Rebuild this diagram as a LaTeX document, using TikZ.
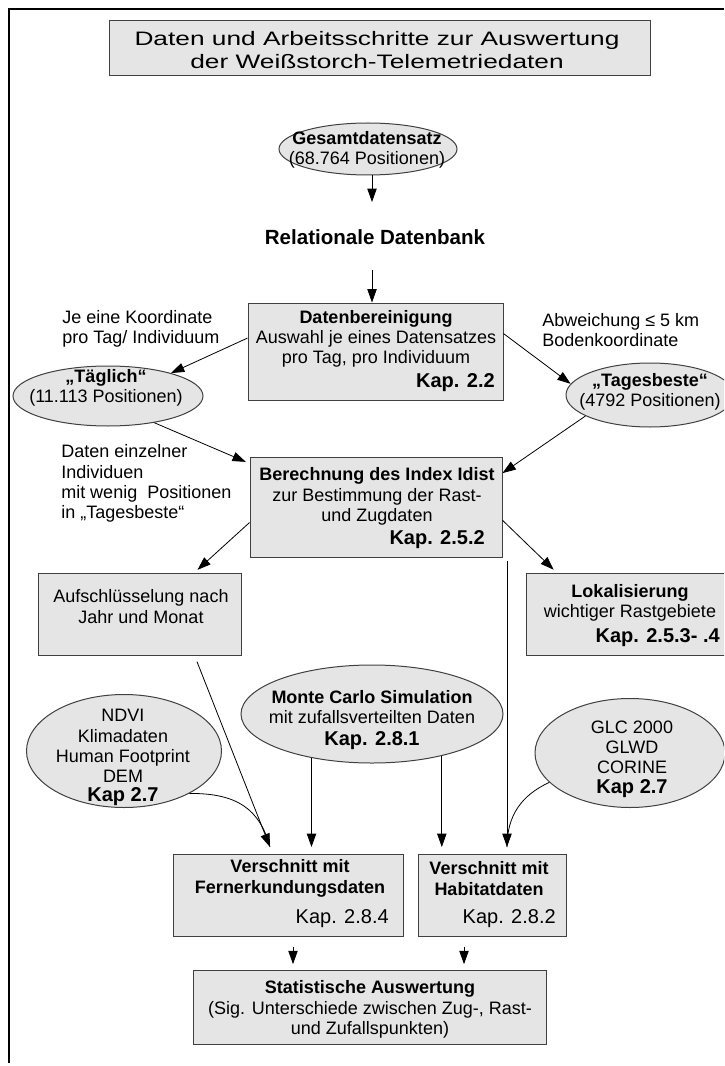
\documentclass[tikz,border=0pt]{standalone}
\usepackage{fontspec}
\setmainfont{Liberation Sans}
\newfontfamily\titelfont[FakeStretch=1.35]{Liberation Sans}
\usetikzlibrary{shapes.geometric,arrows.meta}
\begin{document}
\begin{tikzpicture}[x=0.75pt, y=-0.75pt,
        box/.style={rectangle, draw=black!75, line width=0.75pt, fill=gray!20, inner sep=0pt},
        oval/.style={ellipse, draw=black!75, line width=0.75pt, fill=gray!20, inner sep=0pt},
        txt/.style={inner sep=0pt, align=center, font=\fontsize{13.5}{15.2}\selectfont},
        notiz/.style={txt, align=left, anchor=west},
        kap/.style={inner sep=0pt, anchor=east, font=\fontsize{15}{17}\selectfont\bfseries},
        kapnormal/.style={kap, font=\fontsize{15}{17}\selectfont},
        pfeil/.style={draw, line width=0.6pt, -{Triangle[length=10pt,width=7pt]}},
        linie/.style={draw, line width=0.6pt}]
% Rahmen
                \useasboundingbox ( 0, 0 ) rectangle ( 724, 1066 );
                \clip ( 0, 0 ) rectangle ( 724, 1066 );
                \fill [white] ( 0, 0 ) rectangle ( 724, 1066 );
                \draw [line width=1pt] ( 724, 9 ) -- ( 9, 9 ) -- ( 9, 1063 );

% Titel
                \node [box, minimum width=405.75pt, minimum height=41.25pt] (titel) at ( 379.5, 48.5 ) {};
                \node [txt, font=\titelfont\fontsize{14.6}{17.25}\selectfont] (titel-text) at ( 377, 50.5 )
                        {Daten und Arbeitsschritte zur Auswertung\\der Weißstorch-Telemetriedaten};

% Ellipsen
                \node [oval, minimum width=133.5pt, minimum height=39pt] (gesamt) at ( 368, 149 ) {};
                \node [oval, minimum width=142.5pt, minimum height=45pt] (taeglich) at ( 108, 396 ) {};
                \node [oval, minimum width=126pt, minimum height=48pt] (tagesbeste) at ( 650, 395 ) {};
                \node [oval, minimum width=196.5pt, minimum height=73.5pt] (montecarlo) at ( 372, 714 ) {};
                \node [oval, minimum width=146.25pt, minimum height=84.75pt] (ndvi) at ( 124, 751 ) {};
                \node [oval, minimum width=142.5pt, minimum height=81.75pt] (glc) at ( 630, 753 ) {};

% Kaesten
                \node [box, minimum width=191.25pt, minimum height=72.75pt] (bereinigung) at ( 375.5, 351.5 ) {};
                \node [box, minimum width=189pt, minimum height=75pt] (berechnung) at ( 376, 507 ) {};
                \node [box, minimum width=152.25pt, minimum height=61.5pt] (aufschluesselung) at ( 139.5, 614 ) {};
                \node [box, minimum width=168pt, minimum height=61.5pt] (lokalisierung) at ( 638, 614 ) {};
                \node [box, minimum width=172.5pt, minimum height=61.5pt] (fernerkundung) at ( 288, 895 ) {};
                \node [box, minimum width=111pt, minimum height=61.5pt] (habitat) at ( 492, 895 ) {};
                \node [box, minimum width=264.75pt, minimum height=55.5pt] (statistik) at ( 369.5, 1007 ) {};

% Texte
                \node [txt] (gesamt-text) at ( 367, 150 ) {\textbf{Gesamtdatensatz}\\(68.764 Positionen)};
                \node [txt, font=\fontsize{15.4}{17}\selectfont\bfseries] (datenbank) at ( 375, 237 ) {Relationale Datenbank};
                \node [txt] (bereinigung-text) at ( 376, 339 )
                        {\textbf{Datenbereinigung}\\Auswahl je eines Datensatzes\\pro Tag, pro Individuum};
                \node [kap] (bereinigung-kap) at ( 495, 383 ) {Kap. 2.2};
                \node [txt] (taeglich-text) at ( 106, 388 ) {\textbf{„Täglich“}\\(11.113 Positionen)};
                \node [txt] (tagesbeste-text) at ( 650, 391.5 ) {\textbf{„Tagesbeste“}\\(4792 Positionen)};
                \node [notiz] (notiz-tag) at ( 62, 329 ) {Je eine Koordinate\\pro Tag/ Individuum};
                \node [notiz] (notiz-abweichung) at ( 542, 330 ) {Abweichung ≤ 5 km\\Bodenkoordinate};
                \node [notiz] (notiz-individuen) at ( 61, 483.5 )
                        {Daten einzelner\\Individuen\\mit wenig\ \ Positionen\\in „Tagesbeste“};
                \node [txt] (berechnung-text) at ( 377, 496.5 )
                        {\textbf{Berechnung des Index Idist}\\zur Bestimmung der Rast-\\und Zugdaten};
                \node [kap] (berechnung-kap) at ( 485, 540 ) {Kap. 2.5.2};
                \node [txt] (aufschluesselung-text) at ( 141, 606.5 ) {Aufschlüsselung nach\\Jahr und Monat};
                \node [txt] (lokalisierung-text) at ( 630, 603 ) {\textbf{Lokalisierung}\\wichtiger Rastgebiete};
                \node [kap] (lokalisierung-kap) at ( 720, 638 ) {Kap. 2.5.3- .4};
                \node [txt] (montecarlo-text) at ( 372, 707 ) {\textbf{Monte Carlo Simulation}\\mit zufallsverteilten Daten};
                \node [kap, anchor=center] (montecarlo-kap) at ( 372, 741 ) {Kap. 2.8.1};
                \node [txt] (ndvi-text) at ( 123, 746 ) {NDVI\\Klimadaten\\Human Footprint\\DEM};
                \node [kap, anchor=center] (ndvi-kap) at ( 123, 797 ) {Kap 2.7};
                \node [txt] (glc-text) at ( 632, 747.5 ) {GLC 2000\\GLWD\\CORINE};
                \node [kap, anchor=center] (glc-kap) at ( 632, 789 ) {Kap 2.7};
                \node [txt] (fernerkundung-text) at ( 290, 878.5 ) {\textbf{Verschnitt mit}\\\textbf{Fernerkundungsdaten}};
                \node [kapnormal] (fernerkundung-kap) at ( 389, 919 ) {Kap. 2.8.4};
                \node [txt] (habitat-text) at ( 489, 878.5 ) {\textbf{Verschnitt mit}\\\textbf{Habitatdaten}};
                \node [kapnormal] (habitat-kap) at ( 556, 919 ) {Kap. 2.8.2};
                \node [txt] (statistik-text) at ( 370, 1009.5 )
                        {\textbf{Statistische Auswertung}\\(Sig. Unterschiede zwischen Zug-, Rast-\\und Zufallspunkten)};

% Pfeile
                \coordinate (datenbank-oben) at ( 372, 202 );
                \coordinate (datenbank-unten) at ( 372, 270 );
                \coordinate (abzweig) at ( 507, 561 );
                \coordinate (fk-spitze) at ( 270, 847 );
                \coordinate (hab-spitze) at ( 507, 847 );
                \draw [pfeil] (gesamt.south -| datenbank-oben) -- (datenbank-oben);
                \draw [pfeil] (datenbank-unten) -- (datenbank-unten |- bereinigung.north);
                \draw [pfeil] (bereinigung.174) -- (taeglich.20);
                \draw [pfeil] (bereinigung.8) -- (tagesbeste.172);
                \draw [pfeil, shorten >=3pt] (taeglich.-30) -- (berechnung.161);
                \draw [pfeil] (tagesbeste.198) -- (berechnung.15);
                \draw [pfeil, shorten >=3pt] (berechnung.187) -- (aufschluesselung.37);
                \draw [pfeil, shorten >=3pt] (berechnung.-6) -- (lokalisierung.153);
                \draw [pfeil, shorten <=5pt] (aufschluesselung.-37) -- (fk-spitze);
                \draw [linie] (ndvi.-33) .. controls ( 238, 793 ) and ( 260, 810 ) .. (fk-spitze);
                \draw [pfeil] (montecarlo.216) -- (montecarlo.216 |- fk-spitze);
                \draw [pfeil] (montecarlo.-31) -- (montecarlo.-31 |- fk-spitze);
                \draw [pfeil] (abzweig) -- (hab-spitze);
                \draw [linie] (glc.200) .. controls ( 522, 795 ) and ( 507, 815 ) .. (hab-spitze);
                \draw [pfeil, shorten <=8pt, shorten >=4pt] ([xshift=3.75pt]fernerkundung.south)
                        -- ([xshift=3.75pt]fernerkundung.south |- statistik.north);
                \draw [pfeil, shorten <=8pt, shorten >=4pt] ([xshift=-21pt]habitat.south)
                        -- ([xshift=-21pt]habitat.south |- statistik.north);
\end{tikzpicture}
\end{document}
